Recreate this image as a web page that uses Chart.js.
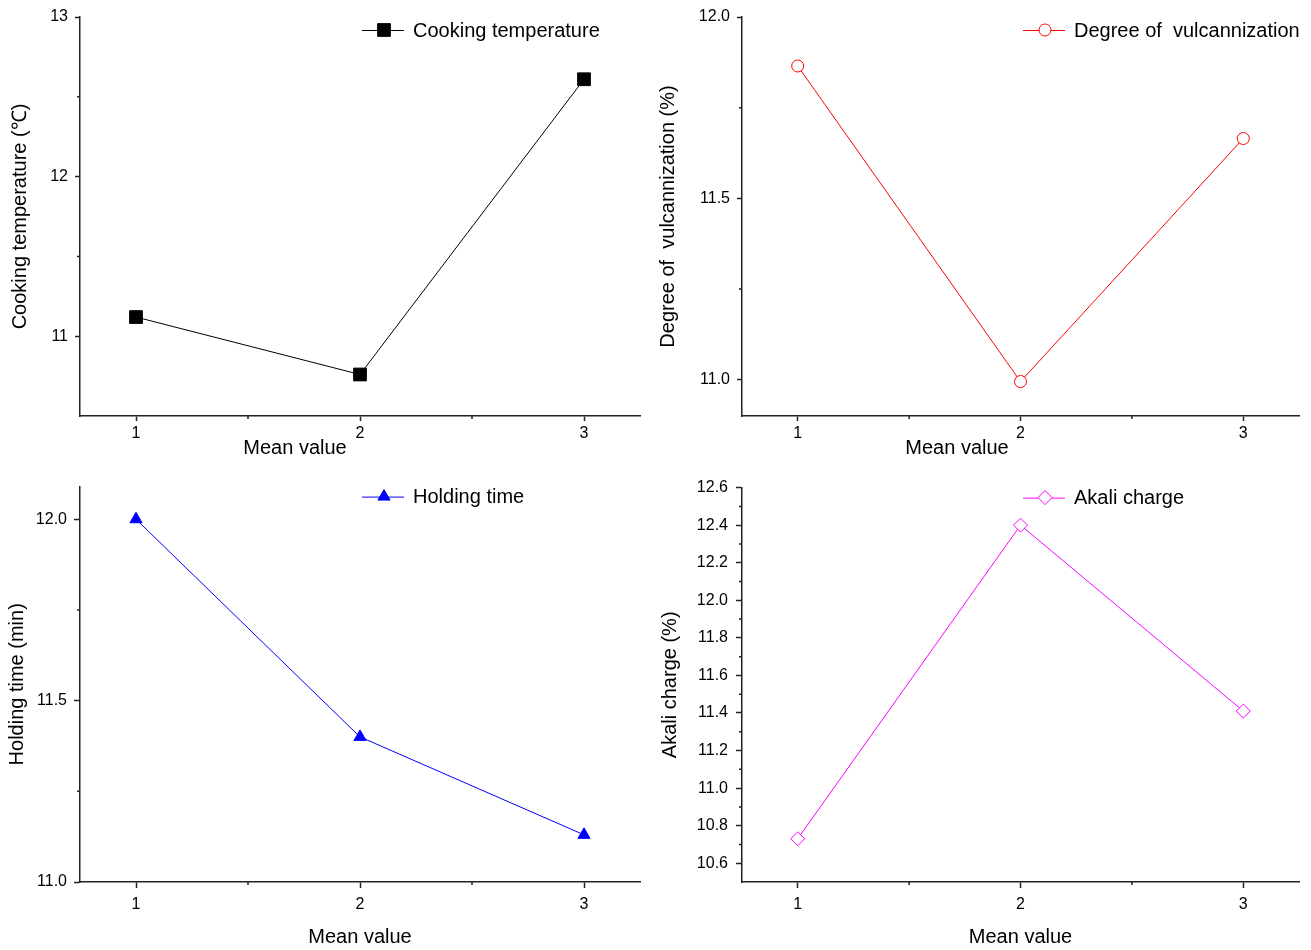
<!DOCTYPE html>
<html>
<head>
<meta charset="utf-8">
<script src="https://cdn.jsdelivr.net/npm/chart.js@4.4.1/dist/chart.umd.min.js"></script>
<style>
  html, body { margin: 0; padding: 0; background: #ffffff; }
  #wrap { position: relative; width: 1311px; height: 950px; overflow: hidden; background: #fff; }
  #wrap canvas { position: absolute; }
</style>
</head>
<body>
<div id="wrap">
  <canvas id="c1" width="655" height="470" style="left:0px;top:0px"></canvas>
  <canvas id="c2" width="656" height="470" style="left:655px;top:0px"></canvas>
  <canvas id="c3" width="655" height="480" style="left:0px;top:470px"></canvas>
  <canvas id="c4" width="656" height="480" style="left:655px;top:470px"></canvas>
</div>
<script>
// ---------------- data ----------------
const xValues = [1, 2, 3];
const xTickValues = [1, 2, 3];
const xMinorTickValues = [1.5, 2.5];
const xAxisTitle = 'Mean value';

const cookingTemperature = [11.12, 10.76, 12.61];
const vulcanizationDegree = [11.865, 10.995, 11.665];
const holdingTime = [12.0, 11.40, 11.13];
const alkaliCharge = [10.73, 12.40, 11.41];

const cookingTicks = [11, 12, 13];
const cookingMinorTicks = [11.5, 12.5];
const vulcanizationTicks = [11.0, 11.5, 12.0];
const vulcanizationMinorTicks = [11.25, 11.75];
const holdingTicks = [11.0, 11.5, 12.0];
const holdingMinorTicks = [11.25, 11.75];
const alkaliTicks = [10.6, 10.8, 11.0, 11.2, 11.4, 11.6, 11.8, 12.0, 12.2, 12.4, 12.6];
const alkaliMinorTicks = [10.7, 10.9, 11.1, 11.3, 11.5, 11.7, 11.9, 12.1, 12.3, 12.5];

// ---------------- helpers ----------------
Chart.defaults.font.family = '"Liberation Sans", Arial, Helvetica, sans-serif';
Chart.defaults.color = '#000';
const AXIS_COLOR = '#222';

function makeChart(id, cfg) {
  const canvas = document.getElementById(id);

  const legendPlugin = {
    id: 'inlineLegend',
    afterDraw(chart) {
      const ds = chart.data.datasets[0];
      const ctx = chart.ctx;
      const a = chart.chartArea;
      const x0 = a.left + cfg.legendDx;
      const y0 = a.top + cfg.legendDy;
      ctx.save();
      ctx.strokeStyle = ds.borderColor;
      ctx.lineWidth = 1;
      ctx.beginPath();
      ctx.moveTo(x0, y0 + 0.5);
      ctx.lineTo(x0 + 42, y0 + 0.5);
      ctx.stroke();
      ctx.fillStyle = ds.pointBackgroundColor;
      ctx.strokeStyle = ds.pointBorderColor;
      ctx.lineWidth = ds.pointBorderWidth;
      Chart.helpers.drawPoint(ctx, {
        pointStyle: ds.pointStyle, radius: ds.pointRadius, rotation: 0, borderWidth: ds.pointBorderWidth
      }, x0 + 22, y0);
      ctx.fillStyle = '#000';
      ctx.font = '20px "Liberation Sans", Arial, Helvetica, sans-serif';
      ctx.textBaseline = 'middle';
      ctx.textAlign = 'left';
      ctx.fillText(ds.label, x0 + 51, y0 + 1);
      ctx.restore();
    }
  };

  const minorPlugin = {
    id: 'minorTicks',
    afterDraw(chart) {
      const ctx = chart.ctx;
      const xs = chart.scales.x, ys = chart.scales.y;
      ctx.save();
      ctx.strokeStyle = AXIS_COLOR;
      ctx.lineWidth = 1.5;
      ctx.beginPath();
      cfg.yMinor.forEach(v => {
        const p = ys.getPixelForValue(v);
        ctx.moveTo(ys.right - cfg.minorLen, p);
        ctx.lineTo(ys.right, p);
      });
      cfg.xMinor.forEach(v => {
        const p = xs.getPixelForValue(v);
        ctx.moveTo(p, xs.top);
        ctx.lineTo(p, xs.top + cfg.minorLen);
      });
      ctx.stroke();
      ctx.restore();
    }
  };

  const xTitlePlugin = {
    id: 'offsetXTitle',
    afterDraw(chart) {
      if (!cfg.xTitleCustom) return;
      const ctx = chart.ctx;
      const a = chart.chartArea;
      ctx.save();
      ctx.fillStyle = '#000';
      ctx.font = '20px "Liberation Sans", Arial, Helvetica, sans-serif';
      ctx.textBaseline = 'middle';
      ctx.textAlign = 'center';
      ctx.fillText(xAxisTitle, a.left + cfg.xTitleDx, a.bottom + cfg.xTitleDy);
      ctx.restore();
    }
  };

  return new Chart(canvas, {
    type: 'line',
    data: {
      datasets: [{
        label: cfg.label,
        data: xValues.map((x, i) => ({ x: x, y: cfg.values[i] })),
        borderColor: cfg.color,
        borderWidth: 1,
        tension: 0,
        pointStyle: cfg.pointStyle,
        pointRadius: cfg.pointRadius,
        pointBackgroundColor: cfg.fill,
        pointBorderColor: cfg.color,
        pointBorderWidth: 1,
        clip: false
      }]
    },
    options: {
      responsive: false,
      animation: false,
      events: [],
      layout: { padding: { top: cfg.padTop, right: cfg.padRight, left: 0, bottom: 0 } },
      plugins: { legend: { display: false }, tooltip: { enabled: false } },
      scales: {
        x: {
          type: 'linear',
          min: 0.75,
          max: 3.25,
          afterBuildTicks: s => { s.ticks = xTickValues.map(v => ({ value: v })); },
          afterFit: s => { s.height = cfg.xAxisHeight; },
          border: { display: true, color: AXIS_COLOR, width: 1.5 },
          grid: { display: true, drawOnChartArea: false, drawTicks: true, tickLength: cfg.tickLen, tickColor: AXIS_COLOR, tickWidth: 1.5 },
          ticks: { color: '#000', font: { size: 16 }, padding: cfg.xTickPad, maxRotation: 0, callback: v => String(v) },
          title: {
            display: !cfg.xTitleCustom,
            text: xAxisTitle,
            color: '#000',
            font: { size: 20 },
            padding: { top: 0, bottom: 1 }
          }
        },
        y: {
          type: 'linear',
          min: cfg.yMin,
          max: cfg.yMax,
          afterBuildTicks: s => { s.ticks = cfg.yTicks.map(v => ({ value: v })); },
          afterFit: s => { s.width = cfg.yAxisWidth; },
          border: { display: true, color: AXIS_COLOR, width: 1.5 },
          grid: { display: true, drawOnChartArea: false, drawTicks: true, tickLength: cfg.tickLen, tickColor: AXIS_COLOR, tickWidth: 1.5 },
          ticks: { color: '#000', font: { size: 16 }, padding: cfg.yTickPad, callback: v => Number(v).toFixed(cfg.yDecimals) },
          title: {
            display: true,
            text: cfg.yTitle,
            color: '#000',
            font: { size: 20 },
            padding: { top: cfg.yTitlePad, bottom: 0 }
          }
        }
      }
    },
    plugins: [minorPlugin, legendPlugin, xTitlePlugin]
  });
}

makeChart('c1', {
  label: 'Cooking temperature', values: cookingTemperature, color: '#000000', fill: '#000000',
  pointStyle: 'rect', pointRadius: 9,
  yMin: 10.5, yMax: 13, yTicks: cookingTicks, yMinor: cookingMinorTicks, xMinor: xMinorTickValues, yDecimals: 0,
  yTitle: 'Cooking temperature (\u2103)',
  yAxisWidth: 80, xAxisHeight: 54, padTop: 17, padRight: 15, yTitlePad: 8,
  tickLen: 5, minorLen: 3, xTickPad: 3, yTickPad: 7,
  xTitleCustom: true, xTitleDx: 215, xTitleDy: 32,
  legendDx: 282, legendDy: 13
});

makeChart('c2', {
  label: 'Degree of  vulcannization', values: vulcanizationDegree, color: '#ff0000', fill: '#ffffff',
  pointStyle: 'circle', pointRadius: 6,
  yMin: 10.9, yMax: 12.0, yTicks: vulcanizationTicks, yMinor: vulcanizationMinorTicks, xMinor: xMinorTickValues, yDecimals: 1,
  yTitle: 'Degree of  vulcannization (%)',
  yAxisWidth: 87, xAxisHeight: 54, padTop: 17, padRight: 12, yTitlePad: 1,
  tickLen: 5, minorLen: 3, xTickPad: 3, yTickPad: 7,
  xTitleCustom: true, xTitleDx: 215, xTitleDy: 32,
  legendDx: 281, legendDy: 13
});

makeChart('c3', {
  label: 'Holding time', values: holdingTime, color: '#0000ff', fill: '#0000ff',
  pointStyle: 'triangle', pointRadius: 7,
  yMin: 11.0, yMax: 12.09, yTicks: holdingTicks, yMinor: holdingMinorTicks, xMinor: xMinorTickValues, yDecimals: 1,
  yTitle: 'Holding time (min)',
  yAxisWidth: 80, xAxisHeight: 68, padTop: 16, padRight: 15, yTitlePad: 5,
  tickLen: 6, minorLen: 3, xTickPad: 7, yTickPad: 7,
  xTitleCustom: false,
  legendDx: 282, legendDy: 10
});

makeChart('c4', {
  label: 'Akali charge', values: alkaliCharge, color: '#ff00ff', fill: '#ffffff',
  pointStyle: 'rectRot', pointRadius: 7,
  yMin: 10.5, yMax: 12.6, yTicks: alkaliTicks, yMinor: alkaliMinorTicks, xMinor: xMinorTickValues, yDecimals: 1,
  yTitle: 'Akali charge (%)',
  yAxisWidth: 87, xAxisHeight: 68, padTop: 16, padRight: 12, yTitlePad: 3,
  tickLen: 6, minorLen: 3, xTickPad: 7, yTickPad: 8,
  xTitleCustom: false,
  legendDx: 281, legendDy: 10
});
</script>
</body>
</html>
